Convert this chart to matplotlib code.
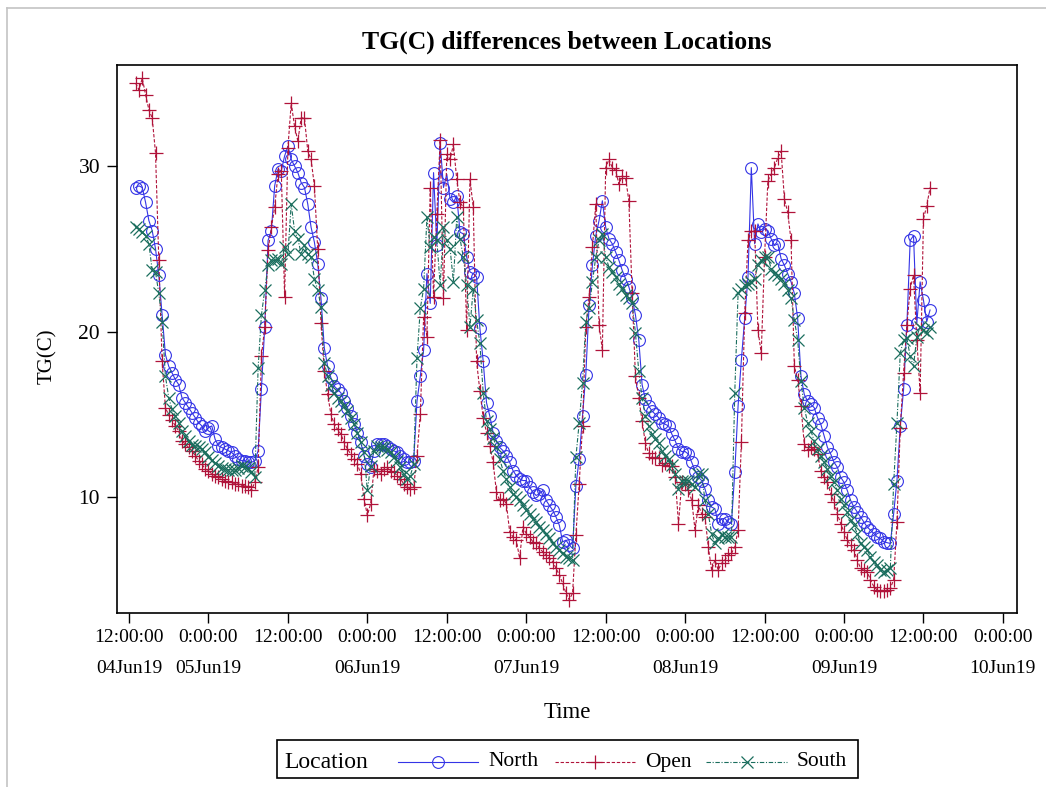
import matplotlib

matplotlib.use("Agg")

import matplotlib.pyplot as plt
import pandas as pd
from matplotlib.lines import Line2D
from matplotlib.patches import Rectangle
from matplotlib.ticker import NullLocator

W, H = 1046, 787

# half-hourly readings, 04Jun19 13:00 through 09Jun19 13:00
START = "2019-06-04 13:00"
STEP = "30min"

NORTH = [
    28.7, 28.8, 28.7, 27.8, 26.7, 26.1, 25.0, 23.4, 21.0, 18.6,
    17.9, 17.5, 17.1, 16.8, 16.0, 15.7, 15.4, 15.1, 14.8, 14.5,
    14.3, 14.0, 14.2, 14.3, 13.5, 13.1, 13.0, 12.9, 12.8, 12.7,
    12.5, 12.3, 12.2, 12.2, 12.1, 12.1, 12.2, 12.8, 16.5, 20.3,
    25.5, 26.1, 28.8, 29.8, 29.7, 30.6, 31.2, 30.4, 30.0, 29.6,
    29.0, 28.7, 27.7, 26.3, 25.4, 24.1, 22.0, 19.0, 17.9, 17.2,
    16.7, 16.5, 16.3, 15.8, 15.4, 14.9, 14.4, 13.9, 13.3, 12.5,
    12.0, 11.8, 12.8, 13.2, 13.2, 13.2, 13.1, 12.9, 12.8, 12.7,
    12.5, 12.3, 12.1, 12.1, 12.2, 15.8, 17.3, 18.9, 23.5, 21.7,
    29.6, 25.2, 31.4, 28.7, 29.5, 28.0, 27.8, 28.2, 26.0, 25.9,
    24.5, 23.6, 23.5, 23.3, 20.2, 18.2, 15.7, 14.9, 13.9, 13.4,
    13.0, 12.8, 12.5, 12.1, 11.6, 11.3, 11.1, 11.0, 11.0, 10.6,
    10.3, 10.1, 10.2, 10.4, 9.8, 9.5, 9.2, 8.8, 8.3, 7.3,
    7.4, 7.1, 6.9, 10.7, 12.3, 14.9, 17.4, 21.6, 24.0, 25.8,
    26.7, 27.9, 26.3, 25.6, 25.3, 24.8, 24.3, 23.7, 23.2, 22.7,
    22.0, 21.0, 19.5, 16.8, 15.9, 15.5, 15.2, 15.0, 14.8, 14.5,
    14.4, 14.3, 13.8, 13.4, 12.9, 12.75, 12.75, 12.6, 12.1, 11.6,
    11.2, 11.0, 10.5, 9.8, 9.4, 9.3, 8.4, 8.7, 8.7, 8.5,
    8.4, 11.5, 15.5, 18.3, 20.8, 23.3, 29.9, 25.3, 26.5, 26.0,
    26.2, 26.1, 25.6, 25.2, 25.3, 24.4, 24.0, 23.5, 23.0, 22.3,
    20.8, 17.3, 16.2, 15.8, 15.6, 15.4, 14.8, 14.4, 13.7, 13.0,
    12.6, 12.1, 11.8, 11.2, 10.9, 10.4, 9.8, 9.4, 9.1, 8.8,
    8.5, 8.2, 8.0, 7.8, 7.6, 7.5, 7.3, 7.25, 7.2, 9.0,
    11.0, 14.3, 16.5, 20.4, 25.5, 25.8, 20.5, 23.0, 21.9, 20.6, 21.3,
]

OPEN = [
    35.0, 34.6, 35.3, 34.3, 33.4, 32.9, 30.8, 24.3, 18.2, 15.4,
    14.95, 14.65, 14.3, 14.0, 13.4, 13.2, 13.0, 12.8, 12.5, 12.2,
    12.0, 11.7, 11.6, 11.4, 11.3, 11.2, 11.1, 11.0, 10.9, 10.9,
    10.8, 10.8, 10.7, 10.7, 10.6, 10.4, 10.9, 11.8, 18.5, 20.3,
    24.9, 26.3, 27.5, 29.5, 29.7, 22.1, 31.1, 33.8, 32.4, 31.5,
    32.9, 32.9, 30.9, 30.4, 28.8, 25.0, 20.5, 17.6, 16.2, 15.0,
    14.4, 14.1, 13.8, 13.3, 12.9, 12.6, 12.3, 12.0, 11.4, 9.9,
    8.9, 9.6, 11.7, 11.6, 11.4, 11.7, 11.8, 11.6, 11.5, 11.3,
    11.1, 10.8, 10.6, 10.5, 10.6, 12.5, 15.0, 20.9, 19.7, 28.7,
    22.1, 27.1, 31.6, 22.0, 30.7, 30.4, 31.3, 29.2, 27.8, 27.5,
    20.1, 29.2, 27.5, 18.2, 16.4, 14.8, 13.9, 13.1, 12.1, 10.3,
    9.8, 9.9, 9.6, 7.9, 7.6, 7.4, 6.3, 8.2, 7.8, 7.6,
    7.3, 7.2, 6.9, 6.7, 6.5, 6.3, 6.1, 5.7, 5.3, 4.8,
    4.2, 3.8, 4.2, 7.7, 10.8, 14.3, 20.3, 22.1, 25.1, 27.7,
    20.4, 18.9, 29.9, 30.4, 29.9, 29.75, 28.9, 29.4, 29.3, 27.9,
    22.3, 17.3, 16.0, 14.6, 13.25, 12.65, 12.4, 12.35, 12.35, 11.95,
    12.05, 11.9, 11.85, 11.2, 8.4, 10.9, 10.8, 10.4, 9.8, 8.0,
    9.5, 9.0, 8.8, 7.0, 5.6, 6.2, 5.6, 6.0, 6.2, 6.5,
    6.6, 7.0, 8.0, 13.3, 21.1, 25.5, 26.1, 26.1, 20.1, 18.7,
    24.5, 29.1, 29.5, 29.9, 30.5, 30.9, 28.0, 27.2, 25.5, 17.9,
    17.1, 15.5, 13.2, 12.85, 13.0, 12.9, 12.6, 11.6, 11.2, 10.9,
    10.2, 9.7, 9.0, 8.4, 7.9, 7.4, 7.1, 6.8, 6.2, 5.7,
    5.6, 5.5, 5.0, 4.6, 4.4, 4.3, 4.3, 4.4, 4.5, 5.0,
    8.5, 14.2, 17.5, 20.4, 22.6, 23.4, 19.5, 16.3, 26.8, 27.6, 28.7,
]

SOUTH = [
    26.3, 26.2, 26.0, 25.8, 25.3, 23.7, 23.6, 22.3, 20.6, 17.3,
    16.0, 15.3, 14.9, 14.5, 14.0, 13.7, 13.4, 13.15, 13.1, 13.0,
    12.9, 12.7, 12.45, 12.25, 12.05, 11.9, 11.75, 11.7, 11.65, 11.65,
    11.65, 11.75, 11.85, 11.8, 11.75, 11.5, 11.2, 17.8, 21.0, 22.5,
    24.0, 24.3, 24.3, 24.4, 24.1, 25.1, 24.7, 27.7, 26.1, 25.6,
    24.7, 25.2, 24.7, 24.5, 23.2, 22.5, 21.5, 18.1, 17.3, 16.8,
    16.3, 16.0, 15.8, 15.5, 15.2, 14.8, 14.4, 13.9, 13.3, 12.7,
    10.4, 11.9, 12.8, 13.1, 13.05, 13.0, 12.85, 12.7, 12.4, 12.2,
    11.8, 11.4, 11.1, 11.3, 12.0, 18.4, 21.4, 22.6, 26.9, 25.1,
    25.7, 25.5, 22.8, 26.3, 25.5, 25.0, 23.0, 26.9, 25.6, 24.5,
    22.8, 20.3, 22.6, 20.7, 19.3, 16.3, 14.6, 14.1, 13.6, 13.0,
    12.3, 11.6, 11.1, 10.6, 10.2, 10.0, 9.8, 9.5, 9.2, 9.0,
    8.7, 8.5, 8.2, 8.0, 7.8, 7.5, 7.2, 7.0, 6.8, 6.6,
    6.4, 6.3, 6.2, 12.4, 14.5, 16.9, 20.6, 21.4, 23.0, 24.5,
    25.5, 25.9, 24.5, 23.9, 23.6, 23.3, 22.9, 22.6, 22.2, 22.0,
    21.7, 19.9, 17.6, 16.0, 14.9, 14.3, 13.8, 13.5, 13.25, 12.8,
    12.5, 12.3, 11.95, 11.4, 10.5, 11.0, 11.0, 11.0, 10.8, 10.6,
    11.4, 11.4, 9.8, 9.0, 7.8, 7.2, 7.5, 7.7, 7.6, 7.6,
    7.6, 16.3, 22.3, 22.6, 22.8, 22.9, 23.0, 23.2, 24.0, 24.3,
    24.5, 24.5, 23.8, 23.5, 23.4, 23.2, 22.9, 22.5, 22.0, 20.7,
    19.5, 17.0, 15.4, 14.5, 14.0, 13.4, 12.9, 12.5, 12.1, 11.7,
    11.3, 10.9, 10.4, 9.9, 9.5, 9.1, 8.6, 8.3, 7.8, 7.2,
    7.0, 6.8, 6.4, 6.1, 5.9, 5.6, 5.5, 5.6, 5.7, 10.8,
    14.5, 18.7, 19.5, 19.6, 18.5, 17.9, 19.7, 20.3, 20.1, 19.9, 20.3,
]

LOCATIONS = ["North", "Open", "South"]
X_TICKS = pd.date_range("2019-06-04 12:00", "2019-06-10 00:00", freq="12h")
X_TICK_LABELS = [
    "12:00:00\n04Jun19", "0:00:00\n05Jun19", "12:00:00", "0:00:00\n06Jun19",
    "12:00:00", "0:00:00\n07Jun19", "12:00:00", "0:00:00\n08Jun19",
    "12:00:00", "0:00:00\n09Jun19", "12:00:00", "0:00:00\n10Jun19",
]
Y_TICKS = [10, 20, 30]

STYLES = {
    "North": dict(color="#3434e6", ls="-", marker="o", ms=8.5, mfc="none", mew=0.8),
    "Open": dict(color="#b0133a", ls=(0, (3, 1.6)), marker="+", ms=10.5, mew=0.9),
    "South": dict(color="#1b6e5e", ls=(0, (4, 1.5, 1, 1.5)), marker="x", ms=8.5, mew=0.9),
}

SERIF = ["Liberation Serif", "DejaVu Serif"]


def fx(px: float) -> float:
    return px / W


def fy(py: float) -> float:
    return 1 - py / H


def main() -> None:
    plt.rcParams["font.family"] = SERIF
    times = pd.date_range(START, periods=len(NORTH), freq=STEP)
    series = {"North": NORTH, "Open": OPEN, "South": SOUTH}

    fig = plt.figure(figsize=(W / 100, H / 100), dpi=100)
    ax = fig.add_axes([fx(117), fy(613), fx(1017) - fx(117), fy(65) - fy(613)])

    for name in LOCATIONS:
        ax.plot(times, series[name], lw=0.8, **STYLES[name])

    ax.set_xlim(pd.Timestamp("2019-06-04 10:11"), pd.Timestamp("2019-06-10 02:08"))
    ax.set_ylim(3.0, 36.1)
    ax.set_xticks(X_TICKS)
    ax.set_xticklabels(X_TICK_LABELS, fontsize=14)
    for lab in ax.get_xticklabels():
        lab.set_linespacing(2.05)
    ax.set_yticks(Y_TICKS)
    ax.set_yticklabels([str(v) for v in Y_TICKS], fontsize=15.5)
    ax.tick_params(axis="both", direction="out", length=7.2, width=1.0)
    ax.tick_params(axis="y", pad=5)
    ax.tick_params(axis="x", pad=4.5)
    ax.xaxis.set_minor_locator(NullLocator())
    for spine in ax.spines.values():
        spine.set_linewidth(1.2)

    fig.text(fx(567), fy(42), "TG(C) differences between Locations",
             ha="center", va="center", fontsize=18.5, fontweight="bold")
    fig.text(fx(47), fy(356), "TG(C)", rotation=90, ha="center", va="center", fontsize=15)
    fig.text(fx(567), fy(713), "Time", ha="center", va="center", fontsize=16.5)

    # outer page frame
    fig.add_artist(Line2D([fx(7), fx(7)], [fy(8), 0], transform=fig.transFigure,
                          color="#c4c4c4", lw=1.2))
    fig.add_artist(Line2D([fx(7), 1], [fy(8), fy(8)], transform=fig.transFigure,
                          color="#c4c4c4", lw=1.2))

    # legend box drawn by hand
    fig.add_artist(Rectangle((fx(277), fy(778)), fx(858) - fx(277), fy(740) - fy(778),
                             transform=fig.transFigure, fill=False, ec="black", lw=1.2))
    ly = fy(762)
    fig.text(fx(284), ly, "Location", ha="left", va="center", fontsize=17)
    slots = [(398, 478, 488), (555, 635, 645), (706, 787, 797)]
    for name, (x0, x1, xt) in zip(LOCATIONS, slots):
        st = STYLES[name]
        fig.add_artist(Line2D([fx(x0), fx(x1)], [ly, ly], transform=fig.transFigure,
                              color=st["color"], ls=st["ls"], lw=0.8))
        fig.add_artist(Line2D([fx((x0 + x1) / 2)], [ly], transform=fig.transFigure,
                              color=st["color"], ls="none", marker=st["marker"],
                              ms=st["ms"], mfc=st.get("mfc", st["color"]), mew=st["mew"]))
        fig.text(fx(xt), ly, name, ha="left", va="center", fontsize=15.5)

    fig.savefig("out.png", dpi=100)
    plt.close(fig)


if __name__ == "__main__":
    main()
